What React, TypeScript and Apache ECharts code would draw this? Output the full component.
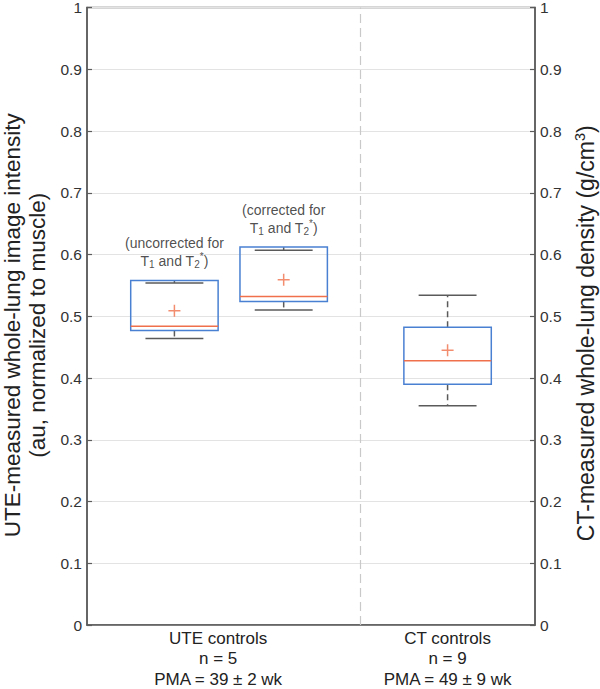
import React, { useEffect, useRef } from "react";
import * as echarts from "echarts";

// Box positions on the x axis and box statistics
const groupPositions = [1, 2, 3.5];
const whiskerLow = [0.464, 0.51, 0.355];
const q1 = [0.477, 0.524, 0.39];
const median = [0.484, 0.532, 0.428];
const q3 = [0.558, 0.612, 0.482];
const whiskerHigh = [0.554, 0.607, 0.534];
const means = [0.509, 0.559, 0.445];

// Annotations above the first two boxes
const annotationTexts = [
  "(uncorrected for\nT{sub|1} and T{sub|2}{sup|*})",
  "(corrected for\nT{sub|1} and T{sub|2}{sup|*})",
];

// Category labels on the x axis
const categoryPositions = [1.4, 3.5];
const categoryLabels = [
  "UTE controls\nn = 5\nPMA = 39 ± 2 wk",
  "CT controls\nn = 9\nPMA = 49 ± 9 wk",
];
const dividerPosition = 2.7;

const yTicks = [0, 0.1, 0.2, 0.3, 0.4, 0.5, 0.6, 0.7, 0.8, 0.9, 1];

const FONT = "'Liberation Sans', Arial, Helvetica, sans-serif";
const AXIS_COLOR = "#5c5c5c";
const BOX_COLOR = "#4a80d2";
const MED_COLOR = "#f0704c";
const WHISKER_COLOR = "#5a5a5a";

export default function App() {
  const ref = useRef<HTMLDivElement>(null);
  useEffect(() => {
    if (!ref.current) return;
    const chart = echarts.init(ref.current, undefined, { renderer: "svg" });
    const boxData = groupPositions.map((p, i) => [
      p,
      whiskerLow[i],
      q1[i],
      median[i],
      q3[i],
      whiskerHigh[i],
    ]);
    const tickFmt = (v: number) => String(+Number(v).toFixed(1));
    const yAxisCommon = {
      type: "value",
      min: yTicks[0],
      max: yTicks[yTicks.length - 1],
      interval: 0.1,
      axisLine: { show: true, lineStyle: { color: AXIS_COLOR, width: 1.5 } },
      axisTick: { show: true, inside: true, length: 5, lineStyle: { color: AXIS_COLOR, width: 1.2 } },
      axisLabel: {
        fontSize: 15.5,
        color: "#333",
        fontFamily: FONT,
        margin: 5,
        formatter: tickFmt,
      },
      nameLocation: "middle",
    };
    chart.setOption({
      animation: false,
      backgroundColor: "#fff",
      grid: {
        left: 87,
        right: 65,
        top: 7.5,
        bottom: 64,
        containLabel: false,
        outerBoundsMode: "none",
        show: true,
        borderColor: AXIS_COLOR,
        borderWidth: 1.5,
        backgroundColor: "transparent",
      },
      xAxis: {
        type: "value",
        min: 0.2,
        max: 4.3,
        splitLine: { show: false },
        axisTick: { show: false },
        axisLine: { show: true, lineStyle: { color: AXIS_COLOR, width: 1.5 } },
        axisLabel: {
          customValues: categoryPositions,
          formatter: (v: number) => {
            const idx = categoryPositions.findIndex((p) => Math.abs(p - v) < 1e-6);
            return idx >= 0 ? categoryLabels[idx] : "";
          },
          fontSize: 17,
          lineHeight: 20.5,
          color: "#222",
          fontFamily: FONT,
          margin: 3,
        },
      },
      yAxis: [
        {
          ...yAxisCommon,
          position: "left",
          splitLine: { show: true, lineStyle: { color: "#e3e3e3", width: 1 } },
          name: "UTE-measured whole-lung image intensity\n(au, normalized to muscle)",
          nameGap: 35,
          nameTextStyle: {
            fontSize: 22.5,
            lineHeight: 25,
            color: "#222",
            fontFamily: FONT,
            padding: [0, 18, 0, 0],
          },
        },
        {
          ...yAxisCommon,
          position: "right",
          splitLine: { show: false },
          name: "CT-measured whole-lung density (g/cm{sup|3})",
          nameRotate: 90,
          nameGap: 28,
          nameTextStyle: {
            fontSize: 23,
            lineHeight: 28,
            color: "#222",
            fontFamily: FONT,
            padding: [0, 34, 0, 0],
            rich: {
              sup: { fontSize: 14.5, verticalAlign: "top", lineHeight: 28, color: "#222", fontFamily: FONT },
            },
          },
        },
      ],
      series: [
        {
          type: "custom",
          name: "boxes",
          xAxisIndex: 0,
          yAxisIndex: 0,
          data: boxData,
          encode: { x: 0, y: [1, 2, 3, 4, 5] },
          renderItem: (params: any, api: any) => {
            const x = api.value(0);
            const lo = api.coord([x, api.value(1)]);
            const b1 = api.coord([x, api.value(2)]);
            const md = api.coord([x, api.value(3)]);
            const b3 = api.coord([x, api.value(4)]);
            const hi = api.coord([x, api.value(5)]);
            const bw = api.size([0.8, 0])[0];
            const cw = api.size([0.53, 0])[0];
            const cx = lo[0];
            const wStyle = { stroke: WHISKER_COLOR, lineWidth: 1.5, lineDash: [6, 4] };
            const cStyle = { stroke: WHISKER_COLOR, lineWidth: 1.5 };
            return {
              type: "group",
              children: [
                { type: "line", shape: { x1: cx, y1: b3[1], x2: cx, y2: hi[1] }, style: wStyle },
                { type: "line", shape: { x1: cx, y1: b1[1], x2: cx, y2: lo[1] }, style: wStyle },
                { type: "line", shape: { x1: cx - cw / 2, y1: hi[1], x2: cx + cw / 2, y2: hi[1] }, style: cStyle },
                { type: "line", shape: { x1: cx - cw / 2, y1: lo[1], x2: cx + cw / 2, y2: lo[1] }, style: cStyle },
                {
                  type: "rect",
                  shape: { x: cx - bw / 2, y: b3[1], width: bw, height: b1[1] - b3[1] },
                  style: { fill: "none", stroke: BOX_COLOR, lineWidth: 1.5 },
                },
                {
                  type: "line",
                  shape: { x1: cx - bw / 2, y1: md[1], x2: cx + bw / 2, y2: md[1] },
                  style: { stroke: MED_COLOR, lineWidth: 1.5 },
                },
              ],
            };
          },
          markLine: {
            silent: true,
            symbol: "none",
            label: { show: false },
            lineStyle: { color: "#c9c9c9", type: [9, 5], width: 1.2 },
            data: [{ xAxis: dividerPosition }],
          },
          z: 3,
        },
        {
          type: "scatter",
          name: "means",
          data: groupPositions.map((p, i) => [p, means[i]]),
          symbol: "path://M0,6L12,6M6,0L6,12",
          symbolSize: 12,
          itemStyle: { color: "none", borderColor: MED_COLOR, borderWidth: 1.5 },
          z: 4,
        },
        {
          type: "scatter",
          name: "annotations",
          data: annotationTexts.map((_, i) => [groupPositions[i], q3[i]]),
          symbolSize: 1,
          itemStyle: { color: "transparent" },
          label: {
            show: true,
            position: "top",
            distance: 10,
            formatter: (p: any) => annotationTexts[p.dataIndex],
            fontSize: 14,
            lineHeight: 17,
            color: "#222",
            fontFamily: FONT,
            align: "center",
            rich: {
              sub: { fontSize: 10, verticalAlign: "bottom", lineHeight: 18, color: "#222", fontFamily: FONT },
              sup: { fontSize: 10, verticalAlign: "top", lineHeight: 18, color: "#222", fontFamily: FONT },
            },
          },
          z: 5,
        },
      ],
    });
    return () => chart.dispose();
  }, []);
  return (
    <div
      ref={ref}
      style={{ position: "fixed", left: 0, top: 0, width: 600, height: 689, background: "#fff" }}
    />
  );
}
